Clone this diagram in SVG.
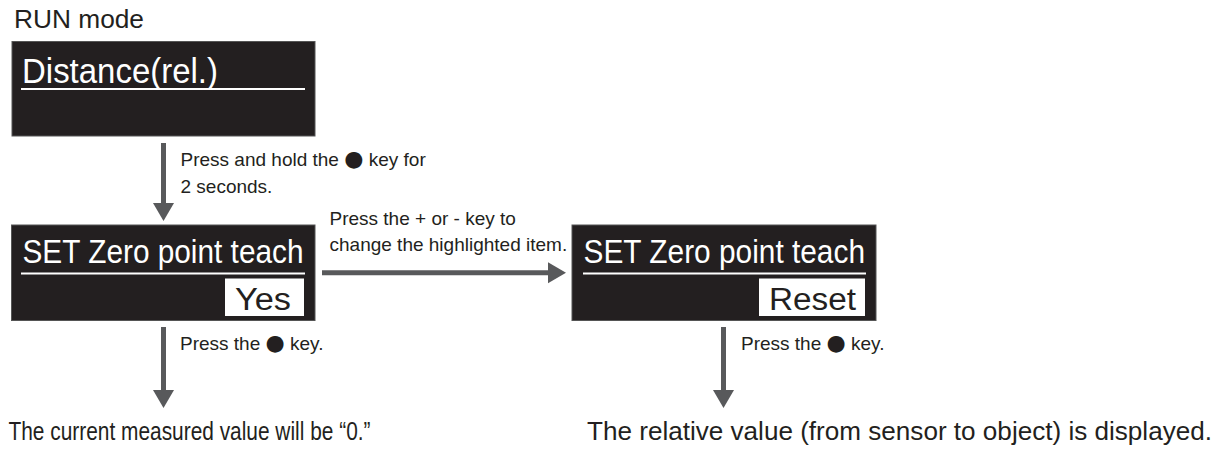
<svg xmlns="http://www.w3.org/2000/svg" width="1219" height="450" viewBox="0 0 1219 450">
<style>
.scr{fill:#231f20;stroke:#555;stroke-width:1}
.ttl{font-family:"Liberation Sans",Arial,sans-serif;fill:#fff}
.ul{stroke:#fff;stroke-width:2}
.hl{fill:#fff}
.hlt{font-family:"Liberation Sans",Arial,sans-serif;fill:#231f20;font-size:31px}
.lbl{font-family:"Liberation Sans",Arial,sans-serif;fill:#231f20;font-size:19px}
.big{font-family:"Liberation Sans",Arial,sans-serif;fill:#231f20;font-size:25px}
.dot{font-family:"DejaVu Sans",sans-serif;font-size:22px}
.arr{stroke:#58595b;stroke-width:5;fill:none}
</style>
<defs>
<marker id="ah" markerUnits="userSpaceOnUse" markerWidth="18" markerHeight="21" refX="0" refY="10.5" orient="auto" overflow="visible">
<path d="M0,0 L18,10.5 L0,21 z" fill="#58595b"/>
</marker>
</defs>
<text class="big" x="14" y="28" textLength="130" lengthAdjust="spacingAndGlyphs">RUN mode</text>
<g id="node-run">
<rect class="scr" x="12" y="41.5" width="303" height="94.5"/>
<text class="ttl" x="22" y="83" font-size="35" textLength="196" lengthAdjust="spacingAndGlyphs">Distance(rel.)</text>
<line class="ul" x1="21" y1="89" x2="305" y2="89"/>
</g>
<g id="node-set-yes">
<rect class="scr" x="11.5" y="225" width="303.5" height="95.5"/>
<text class="ttl" x="22.5" y="263" font-size="33" textLength="281" lengthAdjust="spacingAndGlyphs">SET Zero point teach</text>
<line class="ul" x1="21" y1="273.5" x2="305" y2="273.5"/>
<rect class="hl" x="225" y="278.5" width="79" height="37.5"/>
<text class="hlt" x="235" y="310" textLength="56" lengthAdjust="spacingAndGlyphs">Yes</text>
</g>
<g id="node-set-reset">
<rect class="scr" x="572" y="225" width="304" height="95.5"/>
<text class="ttl" x="583.5" y="263" font-size="33" textLength="281.5" lengthAdjust="spacingAndGlyphs">SET Zero point teach</text>
<line class="ul" x1="583" y1="273.5" x2="866" y2="273.5"/>
<rect class="hl" x="759" y="278.5" width="106" height="37.5"/>
<text class="hlt" x="769" y="309.5" textLength="87" lengthAdjust="spacingAndGlyphs">Reset</text>
</g>
<g id="connectors">
<line class="arr" x1="163.5" y1="143" x2="163.5" y2="203" marker-end="url(#ah)"/>
<line class="arr" x1="322" y1="272.7" x2="548" y2="272.7" marker-end="url(#ah)"/>
<line class="arr" x1="163.5" y1="327" x2="163.5" y2="390" marker-end="url(#ah)"/>
<line class="arr" x1="723.5" y1="327" x2="723.5" y2="390" marker-end="url(#ah)"/>
<text class="lbl" x="180.5" y="166">Press and hold the <tspan class="dot">●</tspan> key for</text>
<text class="lbl" x="180.5" y="193">2 seconds.</text>
<text class="lbl" x="329.5" y="225" font-size="18.5">Press the + or - key to</text>
<text class="lbl" x="329.5" y="251" font-size="18.5">change the highlighted item.</text>
<text class="lbl" x="180" y="350">Press the <tspan class="dot">●</tspan> key.</text>
<text class="lbl" x="741" y="350">Press the <tspan class="dot">●</tspan> key.</text>
</g>
<text class="big" x="8.5" y="440" textLength="362" lengthAdjust="spacingAndGlyphs">The current measured value will be “0.”</text>
<text class="big" x="587" y="440" textLength="625" lengthAdjust="spacingAndGlyphs">The relative value (from sensor to object) is displayed.</text>
</svg>
